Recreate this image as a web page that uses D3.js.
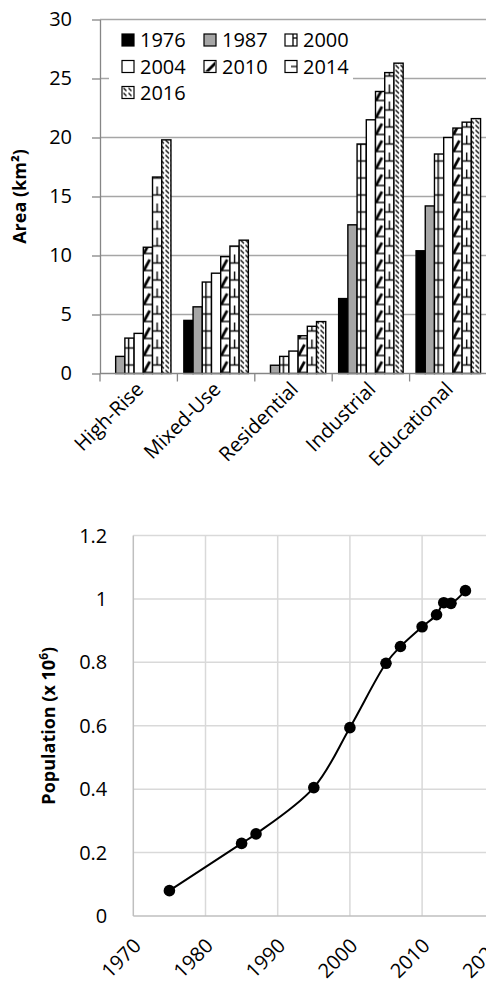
<!DOCTYPE html>
<html>
<head>
<meta charset="utf-8">
<script src="https://cdn.jsdelivr.net/npm/d3@7"></script>
<style>
  body { margin: 0; background: #fff; }
  svg text { font-family: "Open Sans", sans-serif; fill: #000; }
</style>
</head>
<body>
<svg id="fig" width="486" height="994"></svg>
<script>
// top chart: built-up area by class
var categories = ['High-Rise', 'Mixed-Use', 'Residential', 'Industrial', 'Educational'];
var years = ['1976', '1987', '2000', '2004', '2010', '2014', '2016'];
var area_1976 = [0, 4.5, 0, 6.35, 10.4];
var area_1987 = [1.45, 5.65, 0.7, 12.6, 14.2];
var area_2000 = [3.0, 7.75, 1.45, 19.45, 18.6];
var area_2004 = [3.4, 8.5, 1.9, 21.5, 20.0];
var area_2010 = [10.7, 9.9, 3.2, 23.9, 20.8];
var area_2014 = [16.65, 10.8, 4.0, 25.5, 21.3];
var area_2016 = [19.8, 11.3, 4.4, 26.3, 21.6];
var area_ticks = [0, 5, 10, 15, 20, 25, 30];

// bottom chart: population
var pop_years = [1975, 1985, 1987, 1995, 2000, 2005, 2007, 2010, 2012, 2013, 2014, 2016];
var pop_values = [0.08, 0.229, 0.259, 0.405, 0.594, 0.797, 0.85, 0.912, 0.95, 0.988, 0.986, 1.026];
var pop_x_ticks = [1970, 1980, 1990, 2000, 2010, 2020];
var pop_y_ticks = [0, 0.2, 0.4, 0.6, 0.8, 1, 1.2];

var area_series = [area_1976, area_1987, area_2000, area_2004, area_2010, area_2014, area_2016];
var solid_fill = { '1976': '#000', '1987': '#a6a6a6', '2004': '#fff' };

var svg = d3.select('#fig');
var defs = svg.append('defs');

/* ---------- bar chart ---------- */
var c1 = { left: 100, top: 19.5, width: 387, height: 354 };
var g1 = svg.append('g').attr('transform', `translate(${c1.left},${c1.top})`);

var y1 = d3.scaleLinear().domain([0, 30]).range([c1.height, 0]);
var x0 = d3.scaleBand().domain(categories).range([0, c1.width]);
var x1 = d3.scaleBand().domain(years).range([0, x0.bandwidth()]).paddingOuter(0.7);
var bw = x1.bandwidth();
var tileH = 17;

function draw_marks(p, year, w, h) {
  var line = (ax, ay, bx, by, sw) => p.append('line')
    .attr('x1', ax).attr('y1', ay).attr('x2', bx).attr('y2', by)
    .attr('stroke', '#000').attr('stroke-width', sw || 1.4);
  if (year == '2000') {
    line(0, h / 2, w, h / 2);
    line(w * 0.4, 0, w * 0.4, h);
  } else if (year == '2010') {
    line(0, h - 1, w, h - 1);
    line(0.5, h - 1, w * 0.7, h * 0.3, 2.8);
  } else if (year == '2014') {
    line(0, h / 2, w, h / 2);
    line(w / 2, 0, w / 2, h / 2);
  }
}

['2000', '2010', '2014'].forEach(function(year) {
  var p = defs.append('pattern')
    .attr('id', 'bar-' + year)
    .attr('patternUnits', 'userSpaceOnUse')
    .attr('x', x0(categories[0]) + x1(year))
    .attr('y', y1(0))
    .attr('width', x0.step())
    .attr('height', tileH);
  p.append('rect').attr('width', x0.step()).attr('height', tileH).attr('fill', '#fff');
  draw_marks(p, year, bw, tileH);
});

var hatch = defs.append('pattern')
  .attr('id', 'bar-2016')
  .attr('patternUnits', 'userSpaceOnUse')
  .attr('width', 5).attr('height', 5);
hatch.append('rect').attr('width', 5).attr('height', 5).attr('fill', '#fff');
hatch.append('path').attr('d', 'M0.5,0.5L4,4').attr('stroke', '#000').attr('stroke-width', 1.2);

function fill_for(year) {
  return solid_fill[year] || `url(#bar-${year})`;
}

// gridlines
g1.append('g').selectAll('line')
  .data(area_ticks.slice(1))
  .join('line')
  .attr('x1', 0).attr('x2', c1.width)
  .attr('y1', d => y1(d)).attr('y2', d => y1(d))
  .attr('stroke', '#a6a6a6').attr('stroke-width', 1.3);

// bars
years.forEach(function(year, i) {
  g1.append('g').attr('class', 'series')
    .selectAll('rect')
    .data(categories.map((c, j) => ({ cat: c, v: area_series[i][j] })).filter(d => d.v > 0))
    .join('rect')
    .attr('x', d => x0(d.cat) + x1(year))
    .attr('y', d => y1(d.v))
    .attr('width', bw)
    .attr('height', d => y1(0) - y1(d.v))
    .attr('fill', fill_for(year))
    .attr('stroke', '#000')
    .attr('stroke-width', 1.4);
});

// y axis
var ya = g1.append('g')
  .call(d3.axisLeft(y1).tickValues(area_ticks).tickSize(8).tickSizeOuter(0).tickPadding(20));
ya.select('.domain').attr('stroke', '#868686').attr('stroke-width', 1.3);
ya.selectAll('.tick line').attr('stroke', '#868686').attr('stroke-width', 1.3);
ya.selectAll('.tick text').style('font-size', '20px').style('font-family', '"Open Sans", sans-serif');

// x axis with category boundary ticks
var xa = g1.append('g').attr('transform', `translate(0,${c1.height})`);
xa.append('line').attr('x1', 0).attr('x2', c1.width)
  .attr('stroke', '#868686').attr('stroke-width', 1.3);
xa.selectAll('line.bound')
  .data(categories.map(c => x0(c)).concat([c1.width]))
  .join('line')
  .attr('class', 'bound')
  .attr('x1', d => d).attr('x2', d => d)
  .attr('y1', 0).attr('y2', 8)
  .attr('stroke', '#868686').attr('stroke-width', 1.3);
xa.selectAll('text')
  .data(categories)
  .join('text')
  .attr('transform', d => `translate(${x0(d) + x0.bandwidth() / 2 + 1},${12}) rotate(-45)`)
  .attr('text-anchor', 'end')
  .attr('dy', '0.35em')
  .style('font-size', '20px')
  .text(d => d);

// y title
g1.append('text')
  .attr('transform', `translate(${20 - c1.left},${c1.height / 2}) rotate(-90)`)
  .attr('text-anchor', 'middle')
  .attr('dy', '0.35em')
  .style('font-size', '18px')
  .style('font-weight', 'bold')
  .text('Area (km²)');

// legend
var leg = g1.append('g').attr('class', 'legend');
leg.append('rect')
  .attr('x', 9).attr('y', 6).attr('width', 244).attr('height', 84)
  .attr('fill', '#fff');

var sw = 12;
years.forEach(function(year) {
  if (solid_fill[year]) return;
  var p = defs.append('pattern')
    .attr('id', 'leg-' + year)
    .attr('patternUnits', 'objectBoundingBox')
    .attr('width', 1).attr('height', 1);
  p.append('rect').attr('width', sw).attr('height', sw).attr('fill', '#fff');
  var ln = (ax, ay, bx, by, w) => p.append('line')
    .attr('x1', ax).attr('y1', ay).attr('x2', bx).attr('y2', by)
    .attr('stroke', '#000').attr('stroke-width', w || 1.3);
  if (year == '2000') {
    ln(8, 0, 8, sw);
    ln(8, 4, sw, 4);
  } else if (year == '2010') {
    p.append('polygon').attr('points', `1,${sw - 1} ${sw - 1},1 ${sw - 1},5 5,${sw - 1}`).attr('fill', '#000');
  } else if (year == '2014') {
    ln(6, 6, sw, 6);
  } else if (year == '2016') {
    ln(1.5, 1.5, 4.5, 4.5, 1.2);
    ln(6.5, 1.5, 9.5, 4.5, 1.2);
    ln(1.5, 6.5, 4.5, 9.5, 1.2);
    ln(6.5, 6.5, 9.5, 9.5, 1.2);
  }
});

var leg_cols = [22, 104, 185];
var leg_rows = [20.5, 47, 73];
var items = leg.selectAll('g.item')
  .data(years)
  .join('g')
  .attr('class', 'item')
  .attr('transform', (d, i) => `translate(${leg_cols[i % 3]},${leg_rows[Math.floor(i / 3)]})`);
items.append('rect')
  .attr('x', 0).attr('y', -sw / 2).attr('width', sw).attr('height', sw)
  .attr('fill', d => solid_fill[d] || `url(#leg-${d})`)
  .attr('stroke', '#000').attr('stroke-width', 1.2);
items.append('text')
  .attr('x', sw + 6)
  .attr('dy', '0.35em')
  .style('font-size', '20px')
  .text(d => d);

/* ---------- line chart ---------- */
var c2 = { left: 133.3, top: 535.5, width: 361, height: 380.5 };
var g2 = svg.append('g').attr('transform', `translate(${c2.left},${c2.top})`);

var x2 = d3.scaleLinear().domain([1970, 2020]).range([0, c2.width]);
var y2 = d3.scaleLinear().domain([0, 1.2]).range([c2.height, 0]);

g2.append('g').selectAll('line')
  .data(pop_y_ticks.slice(1))
  .join('line')
  .attr('x1', 0).attr('x2', c2.width)
  .attr('y1', d => y2(d)).attr('y2', d => y2(d))
  .attr('stroke', '#d9d9d9').attr('stroke-width', 1.5);
g2.append('g').selectAll('line')
  .data(pop_x_ticks.slice(1))
  .join('line')
  .attr('x1', d => x2(d)).attr('x2', d => x2(d))
  .attr('y1', 0).attr('y2', c2.height)
  .attr('stroke', '#d9d9d9').attr('stroke-width', 1.5);

g2.append('line').attr('x1', 0).attr('x2', 0).attr('y1', 0).attr('y2', c2.height)
  .attr('stroke', '#bfbfbf').attr('stroke-width', 1.5);
g2.append('line').attr('x1', 0).attr('x2', c2.width).attr('y1', c2.height).attr('y2', c2.height)
  .attr('stroke', '#bfbfbf').attr('stroke-width', 1.5);

g2.append('g').selectAll('text')
  .data(pop_y_ticks)
  .join('text')
  .attr('x', -26)
  .attr('y', d => y2(d))
  .attr('dy', '0.35em')
  .attr('text-anchor', 'end')
  .style('font-size', '20px')
  .text(d => String(d));

g2.append('g').selectAll('text')
  .data(pop_x_ticks)
  .join('text')
  .attr('transform', d => `translate(${x2(d) + 4},${c2.height + 26}) rotate(-45)`)
  .attr('text-anchor', 'end')
  .attr('dy', '0.35em')
  .style('font-size', '20px')
  .text(d => d);

var t2 = g2.append('text')
  .attr('transform', `translate(${49 - c2.left},${c2.height / 2}) rotate(-90)`)
  .attr('text-anchor', 'middle')
  .attr('dy', '0.35em')
  .style('font-size', '18px')
  .style('font-weight', 'bold');
t2.append('tspan').text('Population (x 10');
t2.append('tspan').attr('dy', -7).style('font-size', '12px').text('6');
t2.append('tspan').attr('dy', 7).text(')');

var pts = pop_years.map((yr, i) => [yr, pop_values[i]]);
g2.append('path')
  .datum(pts)
  .attr('fill', 'none')
  .attr('stroke', '#000')
  .attr('stroke-width', 2)
  .attr('d', d3.line().x(d => x2(d[0])).y(d => y2(d[1])).curve(d3.curveCatmullRom.alpha(0.5)));

g2.append('g').selectAll('circle')
  .data(pts)
  .join('circle')
  .attr('cx', d => x2(d[0]))
  .attr('cy', d => y2(d[1]))
  .attr('r', 5.8)
  .attr('fill', '#000');
</script>
</body>
</html>
